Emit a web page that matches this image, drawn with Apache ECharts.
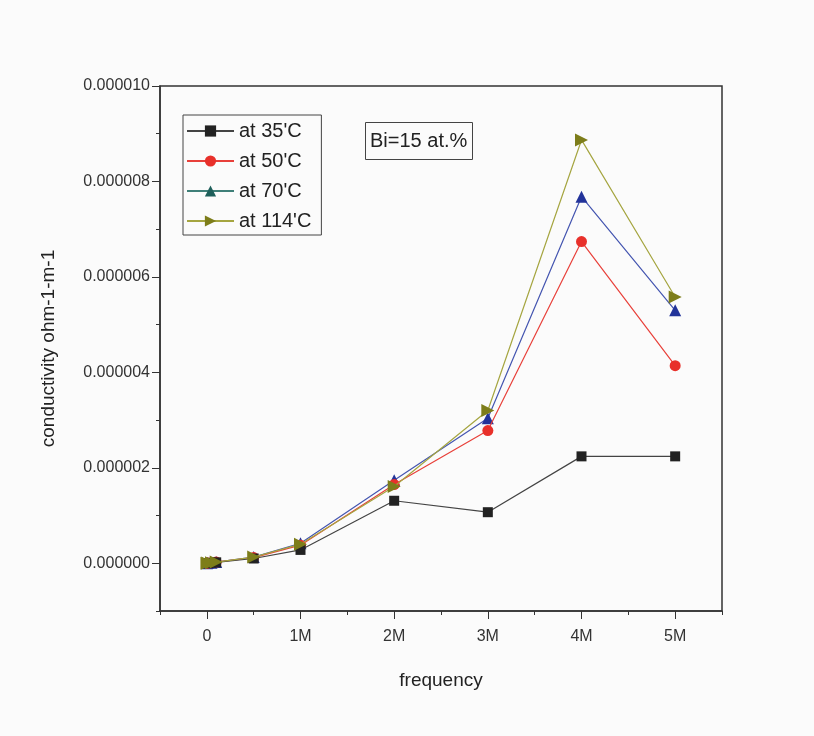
<!DOCTYPE html>
<html>
<head>
<meta charset="utf-8">
<script src="https://cdn.jsdelivr.net/npm/echarts@6/dist/echarts.min.js"></script>
<style>
html,body{margin:0;padding:0;background:#fbfbfb;}
#chart{width:814px;height:736px;}
</style>
</head>
<body>
<div id="chart"></div>
<script>
// Data
const frequency = [1000, 10000, 50000, 100000, 500000, 1000000, 2000000, 3000000, 4000000, 5000000];
const seriesNames = ["at 35'C", "at 50'C", "at 70'C", "at 114'C"];
const cond35  = [0.002e-6, 0.005e-6, 0.01e-6, 0.02e-6, 0.10e-6, 0.28e-6, 1.31e-6, 1.07e-6, 2.24e-6, 2.24e-6];
const cond50  = [0.002e-6, 0.006e-6, 0.012e-6, 0.025e-6, 0.12e-6, 0.38e-6, 1.65e-6, 2.78e-6, 6.74e-6, 4.14e-6];
const cond70  = [0.002e-6, 0.006e-6, 0.013e-6, 0.027e-6, 0.13e-6, 0.42e-6, 1.74e-6, 3.04e-6, 7.68e-6, 5.30e-6];
const cond114 = [0.002e-6, 0.006e-6, 0.013e-6, 0.026e-6, 0.13e-6, 0.40e-6, 1.61e-6, 3.20e-6, 8.87e-6, 5.58e-6];
const xMajorTicks = [0, 1000000, 2000000, 3000000, 4000000, 5000000];
const yMajorTicks = [0, 2e-6, 4e-6, 6e-6, 8e-6, 10e-6];

const pair = (ys) => frequency.map((f, i) => [f, ys[i]]);
const font = "'Liberation Sans', Arial, sans-serif";
const axisColor = '#333';

const chart = echarts.init(document.getElementById('chart'));
chart.setOption({
  backgroundColor: '#fbfbfb',
  animation: false,
  textStyle: { fontFamily: font },
  title: {
    text: 'Bi=15 at.%',
    left: 365, top: 122,
    borderWidth: 1, borderColor: '#444',
    padding: [9, 5, 9, 5],
    textStyle: { fontFamily: font, fontWeight: 'normal', fontSize: 20, color: '#222' }
  },
  legend: {
    orient: 'vertical',
    left: 183, top: 115,
    padding: [5, 10, 3, 3],
    borderWidth: 1, borderColor: '#444',
    itemWidth: 47, itemHeight: 14, itemGap: 8, itemTextGap: 7,
    textStyle: { fontFamily: font, fontSize: 20, color: '#222', lineHeight: 22 },
    data: [
      { name: seriesNames[0] },
      { name: seriesNames[1] },
      { name: seriesNames[2], itemStyle: { color: '#1e5f5a' }, lineStyle: { color: '#3f7f78' } },
      { name: seriesNames[3] }
    ]
  },
  grid: { left: 160, right: 92, top: 86, bottom: 125, show: true, borderColor: axisColor, borderWidth: 1.5, backgroundColor: 'transparent' },
  xAxis: [{
    type: 'value', min: -500000, max: 5500000, interval: 500000,
    name: 'frequency', nameLocation: 'middle', nameGap: 60,
    nameTextStyle: { fontFamily: font, fontSize: 19, color: '#222' },
    axisLine: { onZero: false, lineStyle: { color: axisColor, width: 1.5 } },
    axisTick: { length: 4, lineStyle: { color: axisColor } },
    axisLabel: {
      fontFamily: font, fontSize: 16, color: '#333', margin: 18,
      formatter: v => {
        const m = Math.round(v / 1e5);
        if (m % 10 !== 0) return '';
        return m === 0 ? '0' : (m / 10) + 'M';
      }
    },
    splitLine: { show: false }
  }, {
    type: 'value', position: 'bottom', min: -500000, max: 5500000, interval: 500000,
    axisLine: { show: false, onZero: false },
    axisTick: { show: true, length: 8, customValues: xMajorTicks, lineStyle: { color: axisColor } },
    axisLabel: { show: false },
    splitLine: { show: false }
  }],
  yAxis: [{
    type: 'value', min: -1e-6, max: 1e-5, interval: 1e-6,
    name: 'conductivity ohm-1-m-1', nameLocation: 'middle', nameGap: 102,
    nameTextStyle: { fontFamily: font, fontSize: 19, color: '#222' },
    axisLine: { show: true, onZero: false, lineStyle: { color: axisColor, width: 1.5 } },
    axisTick: { show: true, length: 4, lineStyle: { color: axisColor } },
    axisLabel: {
      fontFamily: font, fontSize: 16, color: '#333', margin: 10,
      formatter: v => {
        const k = Math.round(v / 1e-6);
        if (k % 2 !== 0) return '';
        return (k * 1e-6).toFixed(6);
      }
    },
    splitLine: { show: false }
  }, {
    type: 'value', position: 'left', min: -1e-6, max: 1e-5, interval: 1e-6,
    axisLine: { show: false, onZero: false },
    axisTick: { show: true, length: 8, customValues: yMajorTicks, lineStyle: { color: axisColor } },
    axisLabel: { show: false },
    splitLine: { show: false }
  }],
  series: [
    { name: seriesNames[0], type: 'line', data: pair(cond35), symbol: 'rect', symbolSize: 10,
      itemStyle: { color: '#222' }, lineStyle: { color: '#444', width: 1.2 }, z: 5 },
    { name: seriesNames[1], type: 'line', data: pair(cond50), symbol: 'circle', symbolSize: 11,
      itemStyle: { color: '#e8302a' }, lineStyle: { color: '#e8403a', width: 1.2 }, z: 4 },
    { name: seriesNames[2], type: 'line', data: pair(cond70), symbol: 'triangle', symbolSize: 12,
      itemStyle: { color: '#22339a' }, lineStyle: { color: '#4455b0', width: 1.2 }, z: 3 },
    { name: seriesNames[3], type: 'line', data: pair(cond114), symbol: 'triangle', symbolRotate: -90, symbolSize: 13,
      itemStyle: { color: '#7d7d1a' }, lineStyle: { color: '#a5a540', width: 1.2 }, z: 6 }
  ]
});
</script>
</body>
</html>
